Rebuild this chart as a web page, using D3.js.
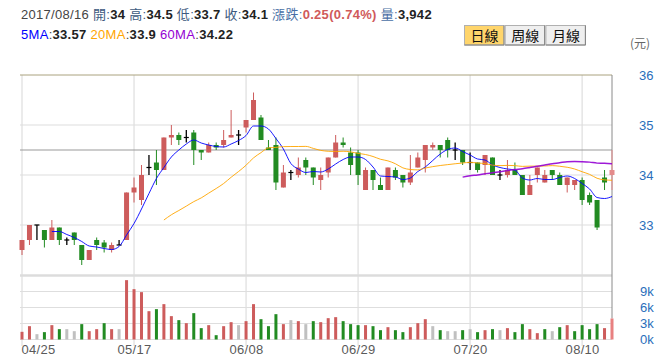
<!DOCTYPE html>
<html>
<head>
<meta charset="utf-8">
<script src="https://cdn.jsdelivr.net/npm/d3@7"></script>
<style>
  body { margin: 0; background: #fff; }
  svg { display: block; font-family: "Liberation Sans", Arial, "Noto Sans CJK TC", sans-serif; }
</style>
</head>
<body>
<svg id="chart" width="663" height="363"></svg>
<script>
// daily bars, 2017/04/25 - 2017/08/16
var dates = ["04/25","04/26","04/27","04/28","05/02","05/03","05/04","05/05","05/08","05/09",
  "05/10","05/11","05/12","05/15","05/16","05/17","05/18","05/19","05/22","05/23",
  "05/24","05/25","05/26","05/31","06/01","06/02","06/03","06/05","06/06","06/07",
  "06/08","06/09","06/12","06/13","06/14","06/15","06/16","06/19","06/20","06/21",
  "06/22","06/23","06/26","06/27","06/28","06/29","06/30","07/03","07/04","07/05",
  "07/06","07/07","07/10","07/11","07/12","07/13","07/14","07/17","07/18","07/19",
  "07/20","07/21","07/24","07/25","07/26","07/27","07/28","07/31","08/01","08/02",
  "08/03","08/04","08/07","08/08","08/09","08/10","08/11","08/14","08/15","08/16"];

var openP = [32.5,32.7,33.0,32.9,32.7,32.95,32.7,32.85,32.6,32.3,
  32.7,32.65,32.5,32.6,32.7,33.65,33.5,34.15,34.25,34.1,
  34.75,34.8,34.75,34.85,34.5,34.45,34.6,34.6,34.75,34.8,
  34.95,35.1,35.15,34.55,34.6,33.75,34.05,34.0,34.3,34.15,
  33.9,34.05,34.35,34.65,34.45,34.45,33.7,34.1,33.8,33.7,
  34.1,34.0,33.85,34.15,34.3,34.55,34.6,34.7,34.5,34.5,
  34.25,34.25,34.2,34.35,34.0,34.0,34.1,34.0,33.6,34.0,
  33.85,34.1,34.0,33.8,33.8,33.9,33.6,33.5,33.95,34.0];

var highP = [32.7,33.0,33.0,32.9,33.1,32.95,32.75,32.85,32.6,32.5,
  32.75,32.7,32.65,32.7,33.65,33.95,34.2,34.4,34.5,34.75,
  35.0,34.85,34.9,34.9,34.5,34.65,34.65,34.9,35.3,34.9,
  35.1,35.65,35.2,34.7,34.75,34.2,34.1,34.35,34.35,34.15,
  34.15,34.35,34.8,34.75,34.55,34.5,34.15,34.1,33.95,34.15,
  34.15,34.0,34.4,34.45,34.6,34.65,34.6,34.75,34.65,34.5,
  34.45,34.25,34.4,34.35,34.1,34.3,34.25,34.0,34.0,34.15,
  34.1,34.1,34.05,33.95,33.9,33.95,33.65,33.5,34.1,34.5];

var lowP = [32.4,32.6,32.7,32.55,32.7,32.6,32.6,32.6,32.2,32.3,
  32.5,32.45,32.45,32.6,32.7,33.45,33.4,34.0,33.8,34.1,
  34.6,34.6,34.65,34.2,34.3,34.45,34.5,34.55,34.75,34.6,
  34.85,35.1,34.7,34.5,33.7,33.75,33.9,33.95,34.0,33.8,
  33.7,33.95,34.35,34.55,34.0,33.8,33.7,33.7,33.7,33.7,
  33.9,33.75,33.8,34.15,34.05,34.5,34.35,34.35,34.3,34.2,
  34.1,34.05,34.0,34.0,33.9,33.95,34.0,33.6,33.6,33.85,
  33.85,33.9,33.8,33.65,33.7,33.4,33.4,32.9,33.7,33.7];

var closeP = [32.7,33.0,33.0,32.7,32.95,32.7,32.7,32.7,32.3,32.5,
  32.6,32.55,32.6,32.6,33.65,33.75,34.0,34.15,34.1,34.75,
  34.8,34.7,34.75,34.5,34.45,34.6,34.55,34.7,34.8,34.8,
  35.1,35.5,34.7,34.5,33.85,34.05,34.05,34.15,34.15,33.95,
  34.0,34.35,34.65,34.6,34.2,34.0,34.1,33.9,33.7,34.15,
  33.95,33.85,34.05,34.35,34.6,34.6,34.5,34.5,34.5,34.25,
  34.25,34.1,34.4,34.0,34.0,34.1,34.0,33.6,33.8,34.15,
  34.0,34.0,33.8,33.95,33.9,33.5,33.45,32.95,33.85,34.1];

var volume = [1440,2500,1000,1380,2690,1940,1940,1560,2880,1560,
  1940,3060,1940,1940,11130,9440,8880,5310,5690,6630,
  4380,3630,3060,4940,2130,2690,810,2500,3250,2690,
  3440,6630,3810,2500,4750,2880,3630,3440,2880,3440,
  3250,4000,4190,3440,2880,2690,2690,2500,1750,2310,
  1750,1380,2310,3060,3810,2500,1750,1560,1560,1750,
  1940,1380,1750,1940,1750,2130,1380,2880,1940,1190,
  1940,1560,2310,2690,1560,2690,1940,2880,2130,3942];

var tickDates = ["04/25","05/17","06/08","06/29","07/20","08/10"];
var priceTicks = [33, 34, 35, 36];
var volTicks = [0, 3000, 6000, 9000];
var crossPrice = 34.5;

var maList = [
  {n: 5,  color: "#0000ff", width: 1},
  {n: 20, color: "#ffa500", width: 1},
  {n: 60, color: "#9400d3", width: 1.5}
];

var upColor = "#cd5c5c", downColor = "#228b22", flatColor = "#c0c0c0";
var last = dates.length - 1;

var svg = d3.select("#chart");

var x = d3.scalePoint().domain(dates).range([22, 612]);
var y = d3.scaleLinear().domain([32, 36]).range([275, 75]);
var yv = d3.scaleLinear().domain([0, 12000]).range([339.5, 275.5]);

// header
var h1 = svg.append("text").attr("x", 21).attr("y", 19)
    .style("font-size", "13px").style("letter-spacing", "0.3px");
[["2017/08/16 ", "#444", 400],
 ["開:", "#3d5a80", 400], ["34 ", "#222", 700],
 ["高:", "#3d5a80", 400], ["34.5 ", "#222", 700],
 ["低:", "#3d5a80", 400], ["33.7 ", "#222", 700],
 ["收:", "#3d5a80", 400], ["34.1 ", "#222", 700],
 ["漲跌:", "#4a6fa5", 400], ["0.25(0.74%) ", "#d05a5a", 700],
 ["量:", "#4a6fa5", 400], ["3,942", "#222", 700]].forEach(function(s) {
  h1.append("tspan").text(s[0]).attr("fill", s[1]).style("font-weight", s[2]);
});

var h2 = svg.append("text").attr("x", 21).attr("y", 39)
    .style("font-size", "13px").style("letter-spacing", "0.3px");
[["5MA", "#0000ff", 400], [":", "#444", 400], ["33.57 ", "#222", 700],
 ["20MA", "#ffa500", 400], [":", "#444", 400], ["33.9 ", "#222", 700],
 ["60MA", "#9400d3", 400], [":", "#444", 400], ["34.22", "#222", 700]].forEach(function(s) {
  h2.append("tspan").text(s[0]).attr("fill", s[1]).style("font-weight", s[2]);
});

// period buttons
var buttons = ["日線", "周線", "月線"];
var btn = svg.selectAll(".btn").data(buttons).enter().append("g")
    .attr("class", "btn")
    .attr("transform", function(d, i) { return "translate(" + (464.5 + i * 40.7) + ",25.5)"; });
btn.append("rect")
    .attr("width", 39.5).attr("height", 19.5)
    .attr("fill", function(d, i) { return i == 0 ? "#ffd56b" : "#efefef"; })
    .attr("stroke", "#b0b0b0");
btn.append("path")
    .attr("d", "M0,19.5H39.5V0")
    .attr("fill", "none").attr("stroke", "#808080");
btn.append("text")
    .attr("x", 20).attr("y", 15)
    .attr("text-anchor", "middle")
    .style("font-size", "14px")
    .style("font-family", "'Noto Sans CJK TC', sans-serif")
    .attr("fill", "#111")
    .text(function(d) { return d; });

svg.append("text").attr("x", 640).attr("y", 48)
    .attr("text-anchor", "middle")
    .style("font-size", "12px").style("font-family", "'Noto Sans CJK TC', sans-serif")
    .attr("fill", "#666").text("(元)");

// grid
var grid = svg.append("g");
grid.selectAll(".vg").data(tickDates).enter().append("line")
    .attr("x1", function(d) { return x(d); }).attr("x2", function(d) { return x(d); })
    .attr("y1", 75).attr("y2", 346)
    .attr("stroke", "#dedede").attr("stroke-width", 1.2);
grid.selectAll(".hg").data(priceTicks.slice(0, 3)).enter().append("line")
    .attr("x1", 20).attr("x2", 612)
    .attr("y1", function(d) { return y(d); }).attr("y2", function(d) { return y(d); })
    .attr("stroke", "#dedede").attr("stroke-width", 1.2);
grid.append("line").attr("x1", 20).attr("x2", 612).attr("y1", y(36)).attr("y2", y(36))
    .attr("stroke", "#aaa27f");
grid.selectAll(".vh").data(volTicks).enter().append("line")
    .attr("x1", 20).attr("x2", 612)
    .attr("y1", function(d) { return yv(d); }).attr("y2", function(d) { return yv(d); })
    .attr("stroke", "#dedede").attr("stroke-width", 1.2);
grid.append("line").attr("x1", 20).attr("x2", 612).attr("y1", 275.5).attr("y2", 275.5)
    .attr("stroke", "#dcdcdc").attr("stroke-width", 2.5);

// crosshair on the last bar
svg.append("line").attr("x1", 20).attr("x2", 612).attr("y1", y(crossPrice)).attr("y2", y(crossPrice))
    .attr("stroke", "#999");
svg.append("line").attr("x1", x(dates[last])).attr("x2", x(dates[last]))
    .attr("y1", 75).attr("y2", yv(volume[last]))
    .attr("stroke", "#8a8a8a");

// volume
svg.append("g").selectAll("rect").data(volume).enter().append("rect")
    .attr("x", function(d, i) { return x(dates[i]) - 1.5; })
    .attr("width", 3)
    .attr("y", function(d) { return yv(d); })
    .attr("height", function(d) { return yv(0) - yv(d); })
    .attr("fill", function(d, i) {
      var prev = i > 0 ? closeP[i - 1] : openP[0];
      if (i == last) return "#e88080";
      if (closeP[i] > prev) return upColor;
      if (closeP[i] < prev) return downColor;
      return flatColor;
    });

// candles
function candleColor(i) {
  if (openP[i] == closeP[i]) return "#000";
  if (i == last) return "#e48b8b";
  return closeP[i] > openP[i] ? upColor : downColor;
}
var candle = svg.append("g").selectAll("g").data(dates).enter().append("g");
candle.append("line")
    .attr("x1", function(d) { return x(d); }).attr("x2", function(d) { return x(d); })
    .attr("y1", function(d, i) { return y(highP[i]); })
    .attr("y2", function(d, i) { return y(lowP[i]); })
    .attr("stroke", function(d, i) { return candleColor(i); })
    .attr("stroke-width", function(d, i) { return openP[i] == closeP[i] ? 1.3 : 1; });
candle.append("rect")
    .attr("x", function(d) { return x(d) - 2.5; })
    .attr("width", 5)
    .attr("y", function(d, i) { return y(Math.max(openP[i], closeP[i])) - (openP[i] == closeP[i] ? 0.6 : 0); })
    .attr("height", function(d, i) { return Math.max(1.2, Math.abs(y(openP[i]) - y(closeP[i]))); })
    .attr("fill", function(d, i) { return candleColor(i); });

// moving averages of the closes
maList.forEach(function(m) {
  var pts = [];
  for (var i = m.n - 1; i < closeP.length; i++) {
    pts.push([x(dates[i]), y(d3.mean(closeP.slice(i - m.n + 1, i + 1)))]);
  }
  svg.append("path")
      .attr("d", d3.line().curve(d3.curveMonotoneX)(pts))
      .attr("fill", "none")
      .attr("stroke", m.color)
      .attr("stroke-width", m.width)
      .attr("opacity", 0.9);
});

// axes
var axisColor = "#2a6ebb";
var py = svg.append("g").attr("transform", "translate(638,0)")
    .call(d3.axisRight(y).tickValues(priceTicks).tickSize(0).tickPadding(1)
      .tickFormat(d3.format("d")));
var vy = svg.append("g").attr("transform", "translate(638,0)")
    .call(d3.axisRight(yv).tickValues(volTicks).tickSize(0).tickPadding(2)
      .tickFormat(function(d) { return (d / 1000) + "k"; }));
[py, vy].forEach(function(g) {
  g.select(".domain").remove();
  g.selectAll("text").attr("fill", axisColor).style("font-size", "13px")
    .style("font-family", "'Liberation Sans', Arial, sans-serif");
});

var xa = svg.append("g").attr("transform", "translate(0,340)")
    .call(d3.axisBottom(x).tickValues(tickDates).tickSize(0).tickPadding(5));
xa.select(".domain").remove();
xa.selectAll("text").attr("fill", "#5a5a5a").style("font-size", "13px")
    .style("letter-spacing", "0.3px")
    .style("font-family", "'Liberation Sans', Arial, sans-serif");
xa.select(".tick text").attr("text-anchor", "start").attr("x", -1);
</script>
</body>
</html>
